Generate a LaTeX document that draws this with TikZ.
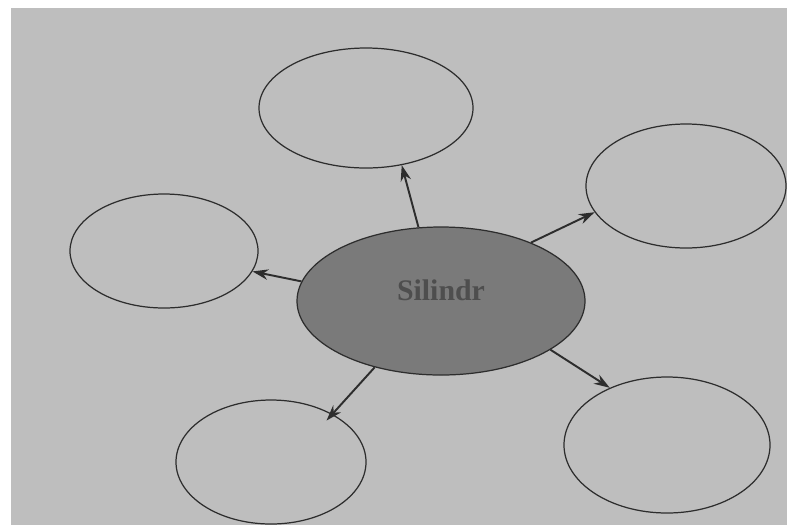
\documentclass[tikz,border=0pt]{standalone}
\usepackage{fontspec}
\setmainfont{Liberation Serif}
\usetikzlibrary{shapes.geometric,arrows.meta}
\definecolor{paper}{RGB}{190,190,190}
\definecolor{hubfill}{RGB}{122,122,122}
\definecolor{inkline}{RGB}{45,45,45}
\definecolor{hubink}{RGB}{78,78,78}
\begin{document}
\begin{tikzpicture}
[x=0.02cm,y=-0.02cm,
  spokedecorate/.style={shape=ellipse,inner sep=0pt,draw=inkline,line width=0.7pt},%
  hubdecorate/.style={shape=ellipse,inner sep=0pt,draw=inkline,line width=0.7pt,fill=hubfill,
    minimum width=288*0.02cm,minimum height=148*0.02cm},%
  arrowdecorate/.style={-{Stealth[length=9pt,width=6pt]},line width=1.1pt,draw=inkline}]
%% page and grey sheet
\fill[white] (0,0) rectangle (787,525);
\fill[paper] (11,8) rectangle (787,525);
%% hub
\node (hub) at (441,301) [hubdecorate] {};
\node (hubtext) at (441,290) [text=hubink,font=\bfseries\fontsize{17}{20}\selectfont] {Silindr};
%% outer ellipses
\foreach \nodename/\x/\y/\w/\h in {top/366/108/214/120, topright/686/186/200/124,
    left/164/251/188/114, botleft/271/462/190/124, botright/667/445/206/136} {
  \node (\nodename) at (\x,\y) [spokedecorate,minimum width=\w*0.02cm,minimum height=\h*0.02cm] {};
}
%% arrows from the hub
\path
(hub.107) edge[arrowdecorate] (top.-58)
(hub.33) edge[arrowdecorate] (topright.-164)
(hub.172) edge[arrowdecorate] (left.-13)
(hub.225) edge[arrowdecorate,shorten >=-5pt] (botleft.38)
(hub.-24) edge[arrowdecorate] (botright.135);
\end{tikzpicture}
\end{document}
